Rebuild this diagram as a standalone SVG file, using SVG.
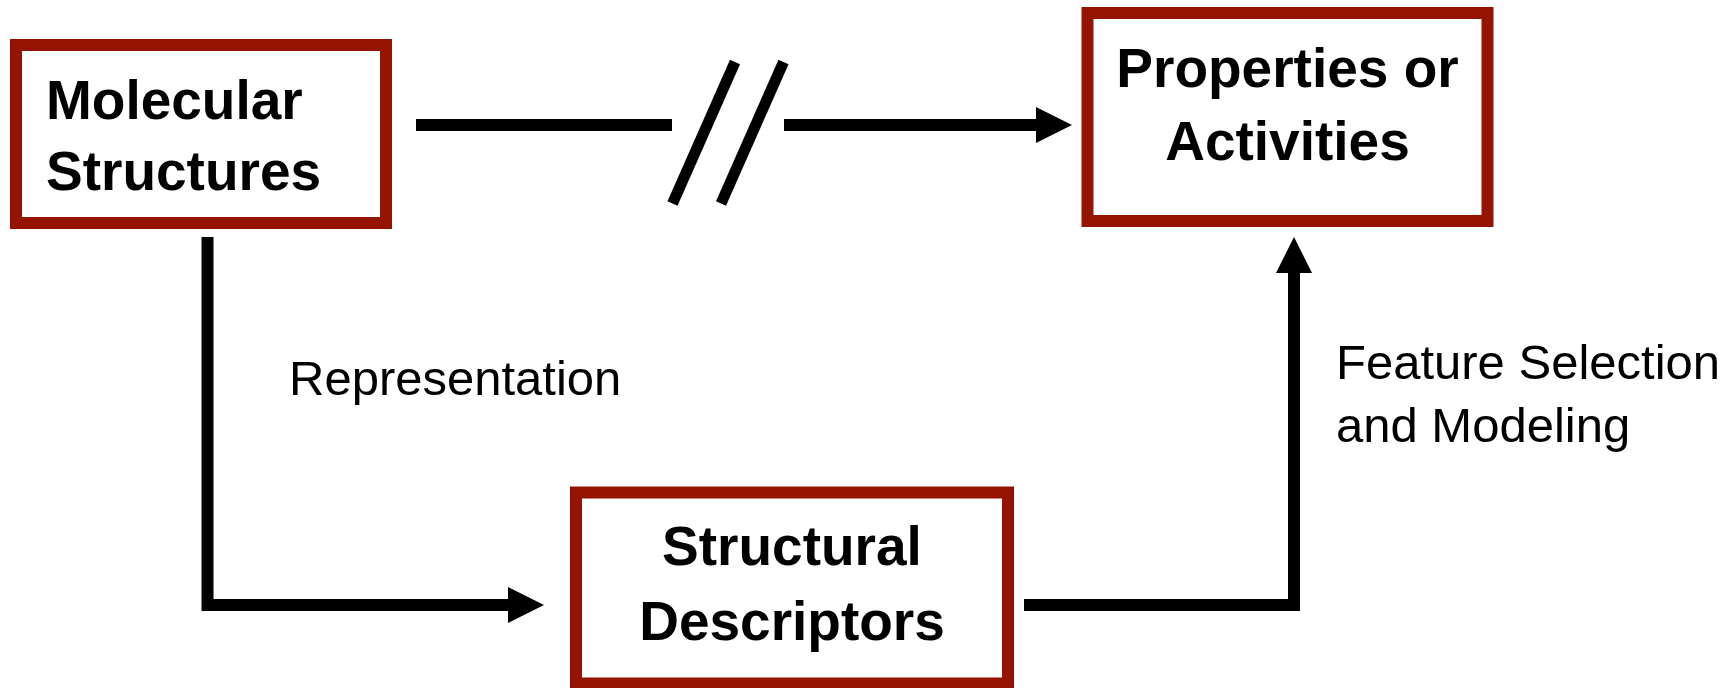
<svg xmlns="http://www.w3.org/2000/svg" width="1729" height="688" viewBox="0 0 1729 688">
  <style>
    .box { fill: #ffffff; stroke: #941400; stroke-width: 12; }
    .title { font-family: "Liberation Sans", Arial, sans-serif; font-weight: bold; font-size: 55px; fill: #000000; }
    .label { font-family: "Liberation Sans", Arial, sans-serif; font-size: 49px; fill: #000000; }
    .conn { fill: none; stroke: #000000; stroke-width: 12; stroke-linejoin: miter; stroke-linecap: butt; }
    .slash { fill: none; stroke: #000000; stroke-width: 11; stroke-linecap: butt; }
  </style>
  <defs>
    <marker id="arrow" markerUnits="userSpaceOnUse" markerWidth="36" markerHeight="36" refX="0" refY="18" orient="auto" viewBox="0 0 36 36">
      <path d="M0,0 L36,18 L0,36 Z" fill="#000000"/>
    </marker>
  </defs>
  <rect x="0" y="0" width="1729" height="688" fill="#ffffff"/>

  <g id="connectors">
    <line class="conn" x1="416" y1="125" x2="672" y2="125"/>
    <line class="slash" x1="735" y1="62" x2="672.5" y2="203.5"/>
    <line class="slash" x1="783.5" y1="62" x2="721" y2="203.5"/>
    <line class="conn" x1="784" y1="125" x2="1036" y2="125" marker-end="url(#arrow)"/>
    <path class="conn" d="M207.5,237 V605 H508" marker-end="url(#arrow)"/>
    <path class="conn" d="M1024,605 H1294 V273" marker-end="url(#arrow)"/>
    <text class="label" x="289" y="395">Representation</text>
    <text class="label" x="1336" y="379">Feature Selection</text>
    <text class="label" x="1336" y="442">and Modeling</text>
  </g>

  <g id="molecular-structures">
    <rect class="box" x="16" y="45" width="370" height="178"/>
    <text class="title" x="46" y="119">Molecular</text>
    <text class="title" x="46" y="190">Structures</text>
  </g>

  <g id="properties-activities">
    <rect class="box" x="1087.5" y="13" width="400" height="208"/>
    <text class="title" x="1287.5" y="87" text-anchor="middle">Properties or</text>
    <text class="title" x="1287.5" y="160" text-anchor="middle">Activities</text>
  </g>

  <g id="structural-descriptors">
    <rect class="box" x="576" y="492.5" width="432" height="191"/>
    <text class="title" x="792" y="565" text-anchor="middle">Structural</text>
    <text class="title" x="792" y="640" text-anchor="middle">Descriptors</text>
  </g>
</svg>
